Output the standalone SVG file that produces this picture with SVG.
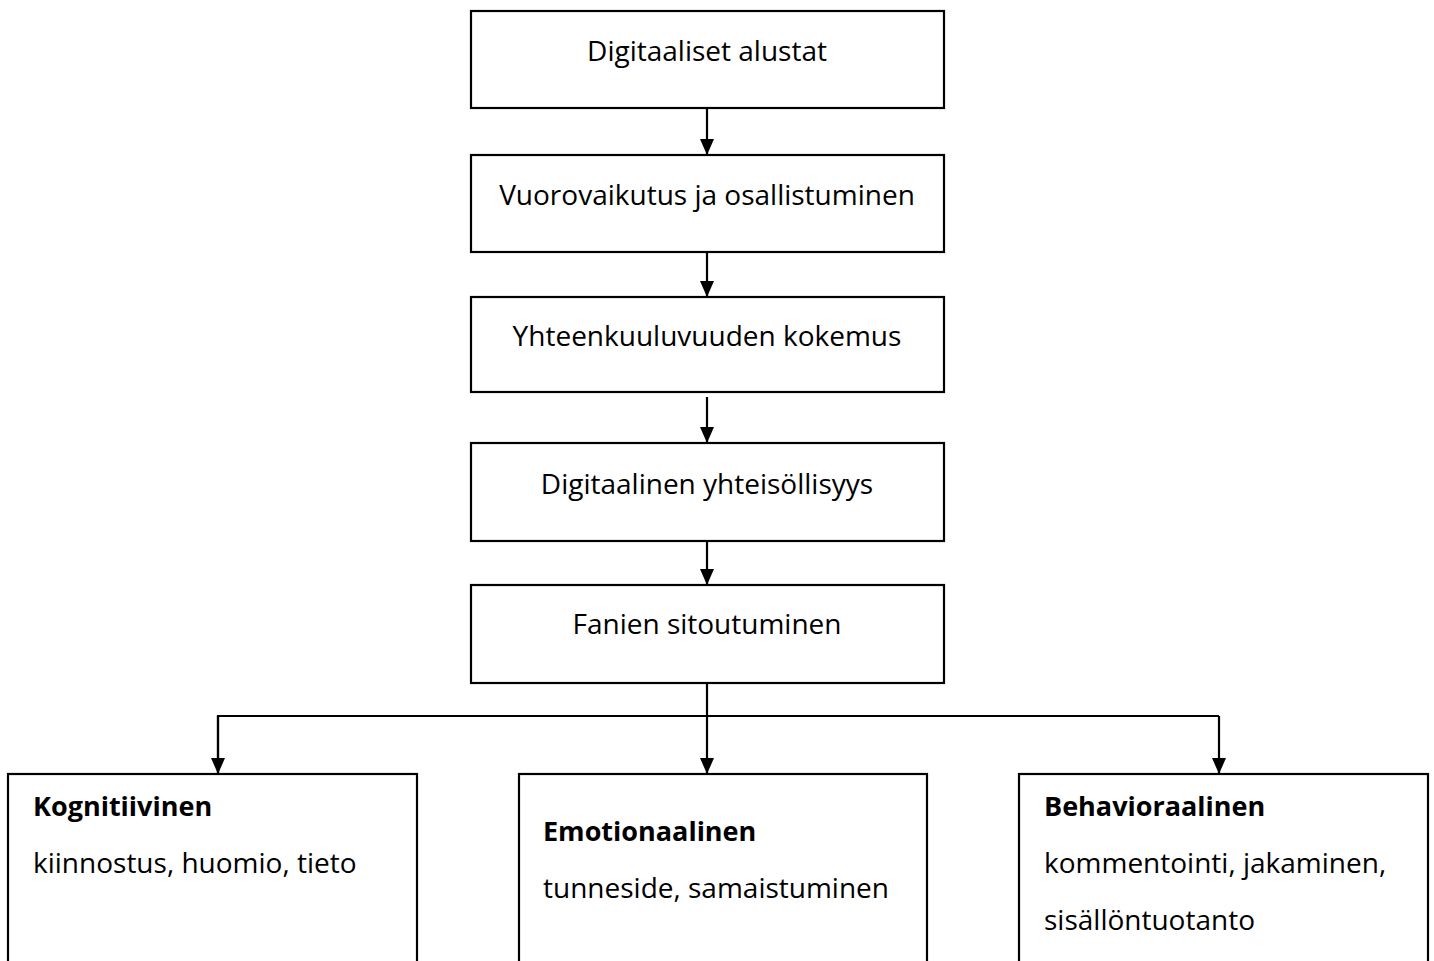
<svg xmlns="http://www.w3.org/2000/svg" width="1434" height="961" viewBox="0 0 1434 961">
<style>
.box{fill:#fff;stroke:#000;stroke-width:2.2}
.t{font-family:"Open Sans","Liberation Sans",sans-serif;font-size:28px;fill:#000}
.c{text-anchor:middle}
.b{font-weight:bold;font-size:27px}
.con{fill:none;stroke:#000;stroke-width:2.2}
</style>
<defs>
<marker id="ah" markerUnits="userSpaceOnUse" markerWidth="16" markerHeight="15" refX="16" refY="7" orient="auto">
<path d="M0,0 L16,7 L0,14 Z" fill="#000"/>
</marker>
</defs>
<rect width="1434" height="961" fill="#fff"/>
<g id="connectors">
<line class="con" x1="707" y1="108" x2="707" y2="155" marker-end="url(#ah)"/>
<line class="con" x1="707" y1="252" x2="707" y2="297" marker-end="url(#ah)"/>
<line class="con" x1="707" y1="397" x2="707" y2="443" marker-end="url(#ah)"/>
<line class="con" x1="707" y1="541" x2="707" y2="585" marker-end="url(#ah)"/>
<line class="con" x1="707" y1="683" x2="707" y2="774" marker-end="url(#ah)"/>
<polyline class="con" points="218,774 218,716 1219,716"/>
<line class="con" x1="218" y1="716" x2="218" y2="774" marker-end="url(#ah)"/>
<line class="con" x1="1219" y1="716" x2="1219" y2="774" marker-end="url(#ah)"/>
</g>
<g id="n1"><rect class="box" x="471" y="11" width="473" height="97"/><text class="t c" x="707" y="61">Digitaaliset alustat</text></g>
<g id="n2"><rect class="box" x="471" y="155" width="473" height="97"/><text class="t c" x="707" y="205">Vuorovaikutus ja osallistuminen</text></g>
<g id="n3"><rect class="box" x="471" y="297" width="473" height="95"/><text class="t c" x="707" y="346">Yhteenkuuluvuuden kokemus</text></g>
<g id="n4"><rect class="box" x="471" y="443" width="473" height="98"/><text class="t c" x="707" y="494">Digitaalinen yhteisöllisyys</text></g>
<g id="n5"><rect class="box" x="471" y="585" width="473" height="98"/><text class="t c" x="707" y="634">Fanien sitoutuminen</text></g>
<g id="n6"><rect class="box" x="8" y="774" width="409" height="200"/><text class="t b" x="33" y="816">Kognitiivinen</text><text class="t" x="33" y="873">kiinnostus, huomio, tieto</text></g>
<g id="n7"><rect class="box" x="519" y="774" width="408" height="200"/><text class="t b" x="543" y="841">Emotionaalinen</text><text class="t" x="543" y="898">tunneside, samaistuminen</text></g>
<g id="n8"><rect class="box" x="1019" y="774" width="409" height="200"/><text class="t b" x="1044" y="816">Behavioraalinen</text><text class="t" x="1044" y="873">kommentointi, jakaminen,</text><text class="t" x="1044" y="930">sisällöntuotanto</text></g>
</svg>
